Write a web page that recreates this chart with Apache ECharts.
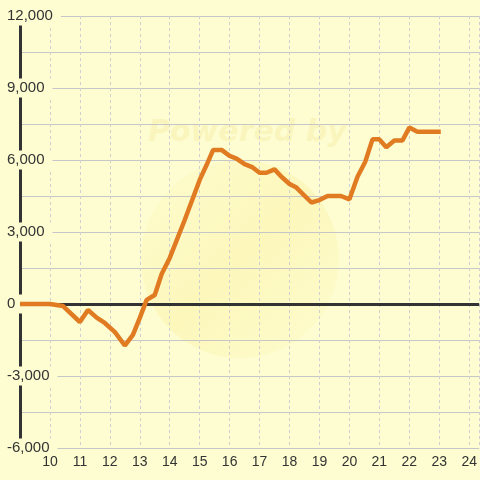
<!DOCTYPE html>
<html>
<head>
<meta charset="utf-8">
<script src="https://cdn.jsdelivr.net/npm/echarts@6/dist/echarts.min.js"></script>
<style>
  html, body { margin: 0; padding: 0; background: #fdfdd1; }
  #chart { width: 480px; height: 480px; }
</style>
</head>
<body>
<div id="chart"></div>
<script>
// values
const xValues = [9, 10, 10.43, 11, 11.27, 11.57, 11.83, 12.17, 12.5, 12.77, 13, 13.23, 13.5, 13.73, 14,
  14.5, 15, 15.23, 15.45, 15.73, 16, 16.23, 16.5, 16.77, 17, 17.23, 17.5, 17.73, 18, 18.23, 18.73,
  19, 19.27, 19.72, 20, 20.27, 20.53, 20.77, 21, 21.23, 21.5, 21.77, 22, 22.27, 23.05]
const yValues = [0, 0, -80, -750, -250, -580, -790, -1170, -1730, -1290, -580, 170, 375, 1250, 1920,
  3500, 5170, 5790, 6420, 6420, 6170, 6060, 5830, 5690, 5470, 5470, 5610, 5300, 5000, 4850, 4230,
  4330, 4500, 4500, 4360, 5300, 5930, 6860, 6860, 6530, 6810, 6810, 7350, 7180, 7180]
const yLabelStep = 3000

const bg = '#fdfdd1'
const textColor = '#333333'

const chart = echarts.init(document.getElementById('chart'))

function formatThousands(v) {
  return v.toLocaleString('en-US')
}

const option = {
  backgroundColor: bg,
  animation: false,
  graphic: [
    {
      type: 'circle',
      shape: { cx: 240, cy: 259, r: 99 },
      style: {
        fill: {
          type: 'linear', x: 0, y: 0, x2: 1, y2: 1,
          colorStops: [
            { offset: 0, color: 'rgba(252,238,150,0.08)' },
            { offset: 0.5, color: 'rgba(250,228,120,0.25)' },
            { offset: 1, color: 'rgba(252,238,150,0.08)' }
          ]
        }
      },
      z: -10
    },
    {
      type: 'text',
      left: 148,
      top: 118,
      style: {
        text: 'Powered by',
        font: 'italic bold 30px "DejaVu Sans"',
        fill: 'rgba(235,215,110,0.2)'
      },
      z: -10
    }
  ],
  grid: { left: 20, right: 0, top: 16, bottom: 32 },
  xAxis: {
    type: 'value',
    min: 9,
    max: 24.333,
    interval: 1,
    axisLine: { show: false },
    axisTick: { show: false },
    axisLabel: {
      color: textColor,
      fontFamily: 'Liberation Sans',
      fontSize: 14,
      margin: 7,
      showMinLabel: false,
      showMaxLabel: false,
      formatter: v => (v === 9 ? '' : String(v))
    },
    splitLine: { show: true, lineStyle: { color: '#cfcfcf', type: [3, 3], width: 1 } }
  },
  yAxis: {
    type: 'value',
    min: -6000,
    max: 12000,
    interval: 1500,
    axisLine: { show: true, lineStyle: { color: '#333333', width: 3 } },
    axisTick: { show: false },
    axisLabel: {
      color: textColor,
      fontFamily: 'Liberation Sans',
      fontSize: 15,
      align: 'left',
      margin: 13,
      backgroundColor: bg,
      padding: [2, 8, 2, 0],
      formatter: v => (v % yLabelStep === 0 ? formatThousands(v) : '')
    },
    splitLine: { show: true, lineStyle: { color: '#c6c6c6', width: 1 } }
  },
  series: [
    {
      // carries the zero line under the data line
      type: 'line',
      data: [[9, 0]],
      showSymbol: false,
      lineStyle: { opacity: 0 },
      silent: true,
      z: 1,
      markLine: {
        silent: true,
        symbol: 'none',
        label: { show: false },
        lineStyle: { color: '#333333', width: 3, type: 'solid' },
        data: [{ yAxis: 0 }]
      }
    },
    {
      type: 'line',
      data: xValues.map((x, i) => [x, yValues[i]]),
      showSymbol: false,
      lineStyle: { color: '#e07b22', width: 4.5 },
      z: 5
    }
  ]
}

chart.setOption(option)
</script>
</body>
</html>
